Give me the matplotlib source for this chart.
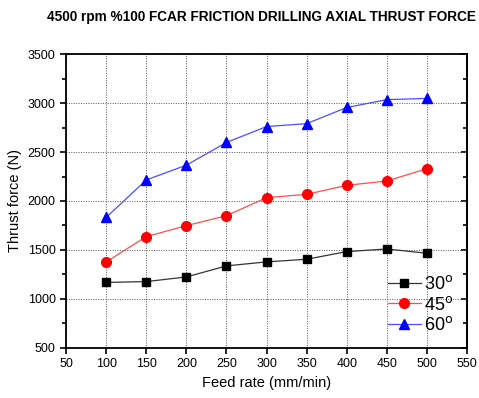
import matplotlib
matplotlib.use('Agg')
from matplotlib import pyplot as plt
from matplotlib.ticker import MultipleLocator

plt.rcParams['font.family'] = ['Liberation Sans', 'DejaVu Sans']

feed_rate = [100, 150, 200, 250, 300, 350, 400, 450, 500]
force_30 = [1168, 1177, 1224, 1337, 1378, 1405, 1483, 1510, 1466]
force_45 = [1378, 1636, 1748, 1850, 2034, 2068, 2160, 2204, 2330]
force_60 = [1832, 2215, 2366, 2598, 2760, 2790, 2955, 3035, 3048]

fig = plt.figure(figsize=(4.79, 3.98), dpi=100)
ax = fig.add_axes([0.138, 0.126, 0.837, 0.738])

ax.plot(feed_rate, force_30, color='#333333', lw=0.9, marker='s', ms=6,
        mfc='black', mec='black', label='30$^{\\mathrm{o}}$')
ax.plot(feed_rate, force_45, color='#ff4d4d', lw=0.9, marker='o', ms=7,
        mfc='red', mec='red', label='45$^{\\mathrm{o}}$')
ax.plot(feed_rate, force_60, color='#4d4dff', lw=0.9, marker='^', ms=7,
        mfc='blue', mec='blue', label='60$^{\\mathrm{o}}$')

ax.set_xlim(50, 550)
ax.set_ylim(500, 3500)
ax.xaxis.set_major_locator(MultipleLocator(50))
ax.yaxis.set_major_locator(MultipleLocator(500))
ax.yaxis.set_minor_locator(MultipleLocator(250))
ax.tick_params(axis='both', which='both', labelsize=9, width=1.2, direction='out')
ax.tick_params(axis='both', which='major', length=4)
ax.tick_params(axis='y', which='minor', length=3)
# mirrored ticks on the right side point inward
ax2 = ax.secondary_yaxis('right')
ax2.yaxis.set_major_locator(MultipleLocator(500))
ax2.yaxis.set_minor_locator(MultipleLocator(250))
ax2.tick_params(which='both', direction='in', labelright=False, width=1.2)
ax2.tick_params(which='major', length=4)
ax2.tick_params(which='minor', length=3)
for sp in ax.spines.values():
    sp.set_linewidth(1.3)
ax2.spines['right'].set_linewidth(1.3)

ax.grid(True, which='major', color='#555555', ls=(0, (1, 1.5)), lw=0.7)

ax.set_xlabel('Feed rate (mm/min)', fontsize=10.5)
ax.set_ylabel('Thrust force (N)', fontsize=10.5)
fig.text(261 / 479, 1 - 17 / 398,
         '4500 rpm %100 FCAR FRICTION DRILLING AXIAL THRUST FORCE',
         fontsize=9.8, fontweight='bold', ha='center', va='center')

ax.legend(loc='lower right', frameon=False, fontsize=13, handlelength=1.8,
          handletextpad=0.2, labelspacing=0.15, borderaxespad=0.35,
          bbox_to_anchor=(1.0, 0.0))

fig.savefig('out.png', dpi=100)
